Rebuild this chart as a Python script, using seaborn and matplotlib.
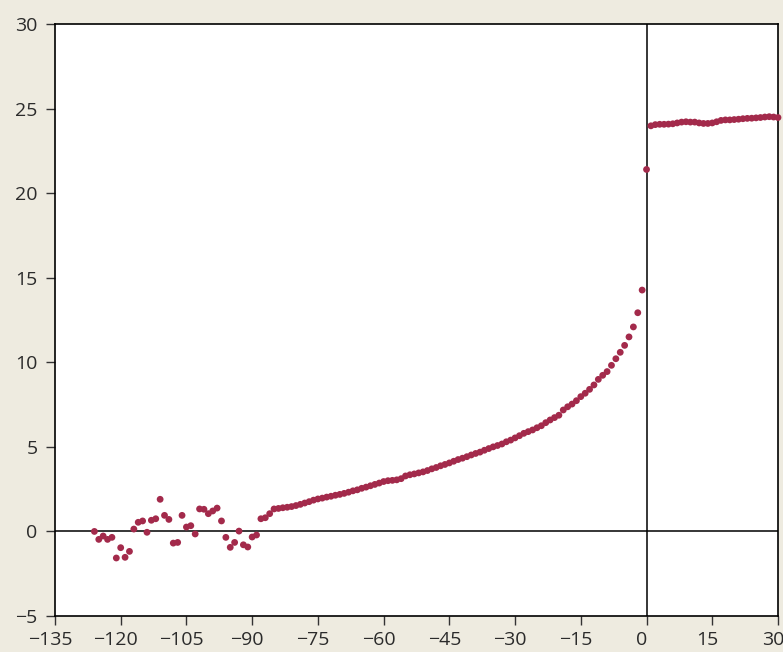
import numpy as np
import pandas as pd
import matplotlib
matplotlib.use("Agg")
import matplotlib.pyplot as plt
import matplotlib.transforms as mtransforms
import seaborn as sns

# Data (one point per unit on x)
x_noisy = list(range(-126, -83))
y_noisy = [0.0, -0.47, -0.27, -0.47, -0.35, -1.57, -0.96, -1.53, -1.18, 0.14,
           0.54, 0.62, -0.05, 0.66, 0.75, 1.9, 0.95, 0.71, -0.69, -0.65,
           0.95, 0.26, 0.34, -0.15, 1.33, 1.31, 1.05, 1.21, 1.38, 0.62,
           -0.35, -0.94, -0.65, 0.02, -0.79, -0.92, -0.33, -0.21, 0.75, 0.81,
           1.05, 1.33, 1.36]

x_smooth = list(range(-83, 0))
y_smooth = [1.40, 1.43, 1.47, 1.53, 1.60, 1.68, 1.76, 1.85, 1.92, 1.97,
            2.03, 2.08, 2.14, 2.19, 2.25, 2.32, 2.40, 2.46, 2.55, 2.62,
            2.70, 2.78, 2.86, 2.95, 3.00, 3.02, 3.05, 3.12, 3.28, 3.35,
            3.40, 3.46, 3.52, 3.60, 3.70, 3.78, 3.88, 3.96, 4.05, 4.15,
            4.25, 4.33, 4.42, 4.52, 4.61, 4.69, 4.80, 4.90, 5.00, 5.08,
            5.17, 5.30, 5.40, 5.53, 5.66, 5.80, 5.90, 6.00, 6.13, 6.25,
            6.43, 6.59, 6.73, 6.87, 7.18, 7.37, 7.53, 7.73, 7.97, 8.17,
            8.40, 8.66, 8.99, 9.23, 9.45, 9.82, 10.21, 10.59, 11.0, 11.5,
            12.09, 12.93, 14.27]

x_after = list(range(0, 31))
y_after = [21.4, 23.98, 24.05, 24.07, 24.07, 24.08, 24.10, 24.15, 24.20, 24.22,
           24.20, 24.20, 24.15, 24.12, 24.12, 24.15, 24.22, 24.30, 24.33, 24.33,
           24.35, 24.37, 24.40, 24.42, 24.43, 24.45, 24.47, 24.50, 24.52, 24.50,
           24.47]

x_ticks = [-135, -120, -105, -90, -75, -60, -45, -30, -15, 0, 15, 30]
y_ticks = [-5, 0, 5, 10, 15, 20, 25, 30]

df = pd.DataFrame({
    "x": x_noisy + x_smooth + x_after,
    "y": y_noisy + y_smooth + y_after,
})

sns.set_style("white")
plt.rcParams["font.family"] = ["Open Sans", "DejaVu Sans"]

bg = "#EEEBE0"
fig = plt.figure(figsize=(7.83, 6.52), dpi=100, facecolor=bg)
ax = fig.add_axes([0.0702, 0.0552, 0.9234, 0.908])
ax.set_facecolor("white")

ax.axhline(0, color="black", lw=1.1, zorder=1)
ax.axvline(0, color="black", lw=1.1, zorder=1)

sns.scatterplot(data=df, x="x", y="y", color="#A32A4B", s=24,
                edgecolor="none", ax=ax, zorder=3, clip_on=False)

ax.set_xlim(-135, 30)
ax.set_ylim(-5, 30)
ax.set_xticks(x_ticks)
ax.set_yticks(y_ticks)
ax.set_xlabel("")
ax.set_ylabel("")

for s in ax.spines.values():
    s.set_visible(True)
    s.set_color("black")
    s.set_linewidth(1.2)

ax.tick_params(axis="both", direction="out", length=6.5, width=1,
               color="#333333", labelsize=14, labelcolor="#2B2B2B",
               bottom=True, left=True)
ax.tick_params(axis="x", pad=4)
ax.tick_params(axis="y", pad=6)

# x labels sit a little left of their ticks in the reference
shift = mtransforms.ScaledTranslation(-0.05, 0, fig.dpi_scale_trans)
for lab in ax.get_xticklabels():
    lab.set_transform(lab.get_transform() + shift)

fig.savefig("out.png", dpi=100, facecolor=bg)
